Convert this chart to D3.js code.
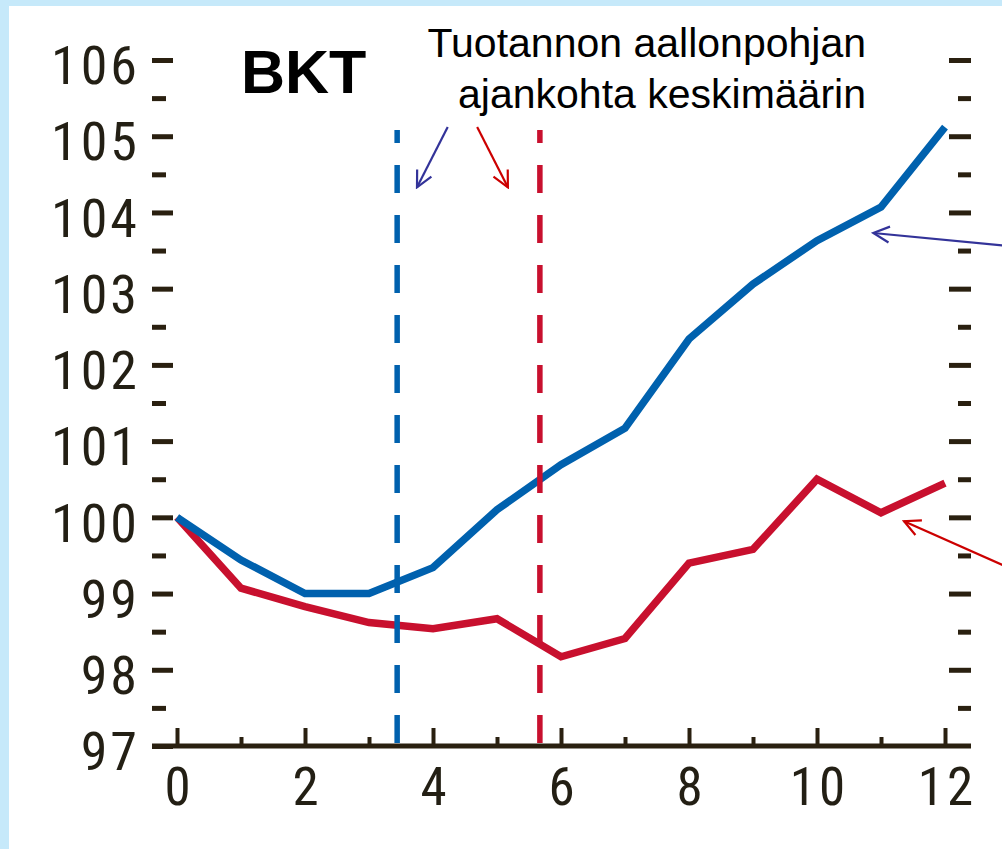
<html>
<head>
<meta charset="utf-8">
<script src="https://d3js.org/d3.v7.min.js"></script>
<style>
body {margin:0; background:#c6e9fa;}
.tick text {font-family: "Roboto Condensed", Roboto, sans-serif; font-weight:400; fill:#231f14; letter-spacing:3px;}
</style>
</head>
<body>
<svg width="1002" height="849"></svg>
<script>
// indeksi, lähtötaso = 100
var quarters = [0,1,2,3,4,5,6,7,8,9,10,11,12];
var blueValues = [100, 99.44, 99.0, 99.0, 99.34, 100.1, 100.69, 101.17, 102.34, 103.06, 103.63, 104.07, 105.12];
var redValues  = [100, 99.07, 98.83, 98.62, 98.54, 98.67, 98.17, 98.41, 99.40, 99.58, 100.50, 100.06, 100.45];
var xMajor = [0,2,4,6,8,10,12];
var xMinor = [1,3,5,7,9,11];
var yMajor = [97,98,99,100,101,102,103,104,105,106];
var yMinor = [97.5,98.5,99.5,100.5,101.5,102.5,103.5,104.5,105.5];
var troughs = [3.44, 5.67];   // aallonpohjan ajankohta keskimäärin
var troughTop = 105.08;

var blue = "#0061ae", red = "#c8102e", ink = "#2a2010";

var svg = d3.select("svg");
svg.append("rect").attr("x",9).attr("y",6).attr("width",1002).attr("height",849).attr("fill","white");

var x = d3.scaleLinear().domain([0,12]).range([177,945]);
var y = d3.scaleLinear().domain([97,106]).range([746,60]);

// vasen akseli
var left = svg.append("g").attr("transform","translate(173,0)")
  .call(d3.axisLeft(y).tickValues(yMajor).tickSize(21).tickPadding(12).tickFormat(d3.format("d")));
left.select(".domain").remove();
left.selectAll("text").attr("font-size",54).attr("dy","0.44em");
svg.append("g").attr("transform","translate(166,0)")
  .call(d3.axisLeft(y).tickValues(yMinor).tickSize(14).tickFormat(""))
  .select(".domain").remove();

// oikea akseli
svg.append("g").attr("transform","translate(949,0)")
  .call(d3.axisRight(y).tickValues(yMajor.slice(1)).tickSize(22).tickFormat(""))
  .select(".domain").remove();
svg.append("g").attr("transform","translate(958,0)")
  .call(d3.axisRight(y).tickValues(yMinor).tickSize(13).tickFormat(""))
  .select(".domain").remove();

// ala-akseli
svg.append("line").attr("x1",152).attr("x2",971).attr("y1",746).attr("y2",746)
  .attr("stroke",ink).attr("stroke-width",5);
var bottom = svg.append("g").attr("transform","translate(0,746)")
  .call(d3.axisBottom(x).tickValues(xMajor).tickSizeInner(-18).tickSizeOuter(0).tickPadding(21));
bottom.select(".domain").remove();
bottom.selectAll("text").attr("font-size",53).attr("dx","1.5px");
svg.append("g").attr("transform","translate(0,746)")
  .call(d3.axisBottom(x).tickValues(xMinor).tickSizeInner(-9).tickSizeOuter(0).tickFormat(""))
  .select(".domain").remove();

svg.selectAll(".tick line").attr("stroke",ink).attr("stroke-width",5);
svg.selectAll("g .tick line").filter(function(){ return this.getAttribute("y2") != null && +this.getAttribute("y2") !== 0; })
  .attr("stroke-width",4);

// sarjat
var line = d3.line().x(function(d,i){return x(quarters[i]);}).y(function(d){return y(d);});
svg.append("path").datum(redValues).attr("d",line)
  .attr("fill","none").attr("stroke",red).attr("stroke-width",7.5).attr("stroke-linejoin","miter");
svg.append("path").datum(blueValues).attr("d",line)
  .attr("fill","none").attr("stroke",blue).attr("stroke-width",7.5).attr("stroke-linejoin","miter");

// pystyviivat
svg.selectAll(".trough").data(troughs).enter().append("line")
  .attr("x1",function(d){return x(d);}).attr("x2",function(d){return x(d);})
  .attr("y1",y(troughTop)).attr("y2",y(97))
  .attr("stroke",function(d,i){return i==0?blue:red;})
  .attr("stroke-width",5.5).attr("stroke-dasharray","28 22").attr("stroke-dashoffset",15);

// tekstit
svg.append("text").attr("x",241).attr("y",93).attr("font-family","Liberation Sans, Arial, sans-serif")
  .attr("font-weight","bold").attr("font-size",61).attr("fill","#000").text("BKT");
var note = svg.append("text").attr("text-anchor","end").attr("font-family","Liberation Sans, Arial, sans-serif")
  .attr("font-size",41).attr("fill","#000");
note.append("tspan").attr("x",866).attr("y",57).text("Tuotannon aallonpohjan");
note.append("tspan").attr("x",866).attr("y",108).text("ajankohta keskimäärin");

// nuolet
var arrows = [
  {c:"#333399", from:[4.23,105.12], to:[3.75,104.33]},
  {c:"#cc0000", from:[4.69,105.12], to:[5.17,104.33]},
  {c:"#333399", from:[13.1,103.55], to:[10.88,103.73]},
  {c:"#cc0000", from:[13.1,99.3], to:[11.36,99.95]}
];
var defs = svg.append("defs");
["#333399","#cc0000"].forEach(function(c,i){
  defs.append("marker").attr("id","ah"+i).attr("markerUnits","userSpaceOnUse")
    .attr("viewBox","-20 -10 22 20").attr("refX",0).attr("refY",0)
    .attr("markerWidth",22).attr("markerHeight",20).attr("orient","auto")
    .append("path").attr("d","M-16,-8 L0,0 L-16,8").attr("fill","none").attr("stroke",c).attr("stroke-width",2.2);
});
svg.selectAll(".arrow").data(arrows).enter().append("line")
  .attr("x1",function(d){return x(d.from[0]);}).attr("y1",function(d){return y(d.from[1]);})
  .attr("x2",function(d){return x(d.to[0]);}).attr("y2",function(d){return y(d.to[1]);})
  .attr("stroke",function(d){return d.c;}).attr("stroke-width",2.2)
  .attr("marker-end",function(d){return d.c=="#333399"?"url(#ah0)":"url(#ah1)";});
</script>
</body>
</html>
